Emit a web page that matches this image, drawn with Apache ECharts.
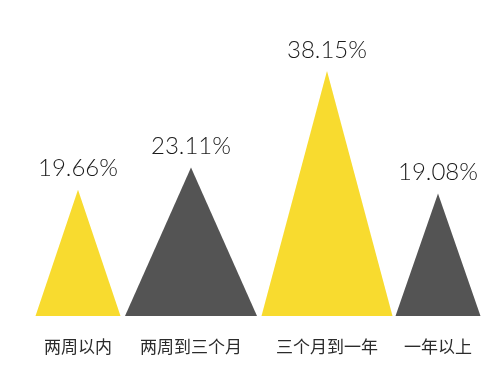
<!DOCTYPE html>
<html>
<head>
<meta charset="utf-8">
<script src="https://cdn.jsdelivr.net/npm/echarts@6/dist/echarts.min.js"></script>
<style>
  html, body { margin: 0; padding: 0; background: #fff; }
  #chart { width: 500px; height: 378px; }
</style>
</head>
<body>
<div id="chart"></div>
<script>
  // data
  let categories = ['两周以内', '两周到三个月', '三个月到一年', '一年以上'];
  let shares = [19.66, 23.11, 38.15, 19.08];

  // look of each triangle (not data)
  let colors = ['#f8db2f', '#545454', '#f8db2f', '#545454'];
  let widths = [85, 132, 131, 85];
  let shifts = [0, -7, 9, 0];

  let chart = echarts.init(document.getElementById('chart'));

  chart.setOption({
    animation: false,
    grid: { left: 18, right: 2, top: 59, bottom: 62 },
    xAxis: {
      type: 'category',
      data: categories.map(function (name, i) {
        // nudge labels to sit under the shifted triangles
        let pad = Math.abs(shifts[i]) * 2;
        return {
          value: name,
          textStyle: { padding: shifts[i] >= 0 ? [0, 0, 0, pad] : [0, pad, 0, 0] }
        };
      }),
      axisLine: { show: false },
      axisTick: { show: false },
      axisLabel: {
        interval: 0,
        hideOverlap: false,
        margin: 22,
        fontSize: 17,
        color: '#2b2b2b',
        fontFamily: 'Noto Sans CJK SC'
      }
    },
    yAxis: {
      type: 'value',
      min: 0,
      max: 40,
      show: false,
      splitLine: { show: false }
    },
    series: [{
      type: 'pictorialBar',
      symbol: 'triangle',
      data: shares.map(function (v, i) {
        return {
          value: v,
          symbolSize: [widths[i], '100%'],
          symbolOffset: [shifts[i], 0],
          itemStyle: { color: colors[i] },
          label: { offset: [shifts[i], 0] }
        };
      }),
      label: {
        show: true,
        position: 'top',
        distance: 9,
        formatter: '{c}%',
        fontSize: 24,
        color: '#1a1a1a',
        fontFamily: 'Lato',
        fontWeight: 300
      }
    }]
  });
</script>
</body>
</html>
